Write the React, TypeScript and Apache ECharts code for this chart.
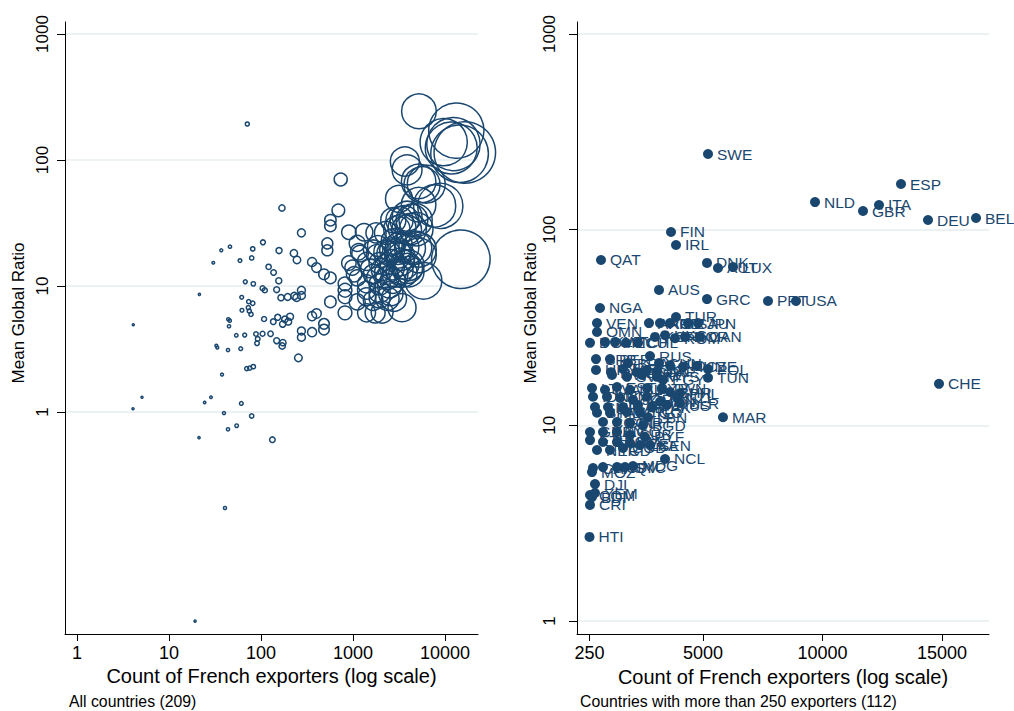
import { useEffect, useRef } from 'react';
import * as echarts from 'echarts';

const NAVY = '#1a476f';
const GRIDC = '#e6eef1';
const FONT = '"Liberation Sans", Arial, Helvetica, sans-serif';

// Countries with more than 250 French exporters (right panel, also drawn in left panel)
const rightCodes = ['SWE','ESP','NLD','ITA','GBR','DEU','BEL','FIN','IRL','QAT','DNK','AUT','LUX','AUS','GRC','PRT','USA','NGA','TUR','JPN','VEN','ARG','ARE','ISR','SAU','OMN','DOM','KWT','LBY','ECU','CHL','KOR','HKG','ROM','NOR','CAN','SRB','PER','BRA','RUS','CHN','IND','CZE','HUN','POL','TUN','CHE','MAR','URY','PAN','MEX','SGP','THA','ZAF','SVK','SVN','HRV','MYS','EGY','LTU','LVA','EST','ISL','CYP','TWN','BHR','PHL','IDN','VNM','KAZ','JOR','SYR','IRN','NZL','CMR','CIV','GAB','COL','PAK','MUS','BLR','BFA','MLI','BEN','TGO','LBN','COG','GIN','MRT','BGD','GHA','KEN','AGO','CUB','PYF','ETH','GEO','ARM','AZE','LKA','SEN','NER','TCD','COD','NCL','CAF','MDG','SYC','GNQ','CPV','MOZ','DJI','COM','BDI','YEM','CRI','HTI'];
const rightCounts = [5210,13281,9685,12361,11692,14410,16418,3663,3872,735,
  5168,5628,6255,3161,5168,7719,8890,693,3872,4792,
  568,2742,3202,3621,4373,568,275,902,1321,1781,
  2282,2993,3412,3830,4248,4875,526,1111,1864,2784,
  3161,3621,4750,4164,5210,5210,14870,5837,526,1153,
  1655,2241,2659,3077,1195,1822,2450,3077,3328,359,
  902,1404,1948,2659,3286,3621,4039,401,986,1530,
  2073,2659,3202,3913,484,1028,1655,2282,2868,3495,
  4039,568,1111,1822,2366,2701,819,1404,1948,2492,
  275,819,1404,1948,2575,275,819,1404,1948,2366,
  2784,568,1111,1655,3412,401,2073,1739,819,1404,
  359,484,275,359,484,275,255];
const rightRatios = [243.6,171.1,138.4,133.7,124.5,112.0,114.7,97.3,83.5,70.0,
  67.6,63.7,64.4,49.2,44.2,43.2,43.2,39.8,35.8,33.3,
  33.3,33.3,33.3,33.3,33.3,30.0,26.4,26.7,26.7,26.4,
  26.4,28.3,28.9,27.9,28.3,28.3,21.8,21.8,20.8,22.6,
  20.8,20.3,20.1,19.9,19.4,17.5,16.3,11.0,19.2,18.7,
  19.4,18.7,19.2,18.9,18.1,17.7,18.1,17.7,17.1,15.5,
  15.2,15.7,15.2,15.5,15.5,14.8,14.6,14.0,14.0,13.8,
  13.5,14.0,13.2,13.8,12.4,12.4,12.4,12.7,12.4,12.7,
  13.0,11.6,11.6,11.7,11.6,11.0,10.4,10.4,10.3,10.0,
  9.25,9.25,9.25,8.93,8.72,8.41,8.22,8.22,8.12,7.93,
  7.93,7.48,7.48,7.66,6.73,6.05,6.20,6.12,6.12,6.12,
  5.77,5.01,4.40,4.30,4.51,3.92,2.69];

// Countries with 250 exporters or fewer (left panel only)
const smallCounts = [71.0,169,105,81.3,79.2,37.0,46.0,30.3,59.1,157,228,246,121,137,156,67.5,82.5,104,110,148,21.4,61.7,73.5,81.3,62.1,72.8,
  74.6,77.9,165,195,230,244,4.09,44.1,45.7,44.9,108,136,152,172,182,198,207,53.9,66.5,88.2,104,127,92.1,90.5,148,173,
  170,32.7,33.5,43.8,60.2,69.9,75.4,82.5,37.7,5.09,28.6,24.4,4.06,61.1,39.6,79.2,43.8,54.4,21.2,133,40.6,19.2];
const smallRatios = [193,41.6,22.2,19.7,16.7,19.2,20.5,15.3,15.9,19.1,18.2,16.1,14.2,12.8,11.0,10.8,10.4,9.59,9.25,9.35,8.59,8.13,7.51,7.29,6.41,6.73,
  6.33,5.96,8.08,8.18,8.33,8.08,4.93,5.44,5.31,4.79,5.47,5.21,5.64,4.99,5.44,5.21,5.71,4.06,4.08,4.16,4.18,4.18,3.80,3.51,3.68,3.55,
  3.34,3.36,3.24,3.10,3.18,2.21,2.23,2.29,1.98,1.31,1.31,1.19,1.06,1.17,0.98,0.93,0.729,0.778,0.625,0.603,0.173,0.0219];

const leftXTicks = [1, 10, 100, 1000, 10000];
const rightXTicks = [250, 5000, 10000, 15000];
const yTicks = [1, 10, 100, 1000];

const xTitle = 'Count of French exporters (log scale)';
const yTitle = 'Mean Global Ratio';
const leftNote = 'All countries (209)';
const rightNote = 'Countries with more than 250 exporters (112)';

export default function App() {
  const ref = useRef<HTMLDivElement>(null);
  useEffect(() => {
    const chart = echarts.init(ref.current!, null, { renderer: 'svg' });
    const bubbleData = [
      ...smallCounts.map((c, i) => [c, smallRatios[i]]),
      ...rightCounts.map((c, i) => [c, rightRatios[i]]),
    ];
    const labelled = rightCounts.map((c, i) => ({ name: rightCodes[i], value: [c, rightRatios[i]] }));
    const fmt = (v: number) => String(Math.round(v));
    const mkGrid = (left: number, top: number, width: number, height: number) => ({
      left, top, width, height, containLabel: false, outerBoundsMode: 'none',
    });
    const lineAxis = { show: true, onZero: false, lineStyle: { color: '#000', width: 1 } };
    const hidden = (gridIndex: number) => ({ gridIndex, type: 'value', show: false, min: 0, max: 1 });
    const tickAxisY = (gridIndex: number, margin: number) => ({
      gridIndex, type: 'log', logBase: 10, min: yTicks[0], max: yTicks[yTicks.length - 1],
      axisLine: { show: false },
      axisTick: { show: true, length: 8, lineStyle: { color: '#000', width: 1 } },
      axisLabel: { show: true, rotate: 90, fontSize: 17, color: '#000', margin, formatter: fmt, fontFamily: FONT },
      splitLine: { show: true, lineStyle: { color: GRIDC, width: 1.5 } },
    });
    const titleStyle = { fontSize: 20, color: '#000', fontFamily: FONT };
    const option: any = {
      animation: false,
      backgroundColor: '#ffffff',
      textStyle: { fontFamily: FONT },
      grid: [
        mkGrid(65, 22, 413, 612),
        mkGrid(65, 34, 413, 378),
        mkGrid(77, 22, 368, 612),
        mkGrid(577, 22, 412, 612),
        mkGrid(577, 34, 412, 587),
      ],
      xAxis: [
        { gridIndex: 0, type: 'log', min: Math.pow(10, -0.1304), max: Math.pow(10, 4.3587),
          axisLine: lineAxis, axisTick: { show: false }, axisLabel: { show: false }, splitLine: { show: false },
          name: xTitle, nameLocation: 'middle', nameGap: 32, nameTextStyle: titleStyle },
        hidden(1),
        { gridIndex: 2, type: 'log', min: leftXTicks[0], max: leftXTicks[leftXTicks.length - 1],
          axisLine: { show: false },
          axisTick: { show: true, length: 7, lineStyle: { color: '#000', width: 1 } },
          axisLabel: { show: true, fontSize: 18, color: '#000', margin: 10, formatter: fmt, fontFamily: FONT },
          splitLine: { show: false } },
        { gridIndex: 3, type: 'value', min: -268.6, max: 16961,
          axisLine: lineAxis,
          axisTick: { show: true, length: 7, customValues: rightXTicks, lineStyle: { color: '#000', width: 1 } },
          axisLabel: { show: true, fontSize: 18, color: '#000', margin: 10, formatter: fmt, customValues: rightXTicks, fontFamily: FONT },
          splitLine: { show: false },
          name: xTitle, nameLocation: 'middle', nameGap: 32, nameTextStyle: titleStyle },
        hidden(4),
      ],
      yAxis: [
        { gridIndex: 0, type: 'log', min: Math.pow(10, -1.7619), max: Math.pow(10, 3.0952),
          axisLine: lineAxis, axisTick: { show: false }, axisLabel: { show: false }, splitLine: { show: false } },
        tickAxisY(1, 14),
        hidden(2),
        { gridIndex: 3, type: 'log', min: Math.pow(10, -0.0664), max: Math.pow(10, 3.0613),
          axisLine: lineAxis, axisTick: { show: false }, axisLabel: { show: false }, splitLine: { show: false } },
        tickAxisY(4, 19),
      ],
      graphic: [
        { type: 'text', x: 18, y: 313, rotation: Math.PI / 2,
          style: { text: yTitle, fontSize: 17, fill: '#000', align: 'center', verticalAlign: 'middle', fontFamily: FONT } },
        { type: 'text', x: 530, y: 313, rotation: Math.PI / 2,
          style: { text: yTitle, fontSize: 17, fill: '#000', align: 'center', verticalAlign: 'middle', fontFamily: FONT } },
        { type: 'text', x: 69, y: 701,
          style: { text: leftNote, fontSize: 15.8, fill: '#000', align: 'left', verticalAlign: 'middle', fontFamily: FONT } },
        { type: 'text', x: 580, y: 701,
          style: { text: rightNote, fontSize: 15.8, fill: '#000', align: 'left', verticalAlign: 'middle', fontFamily: FONT } },
      ],
      series: [
        { type: 'scatter', xAxisIndex: 0, yAxisIndex: 0, data: bubbleData, clip: false,
          symbol: 'circle',
          symbolSize: (v: number[]) => Math.max(2, 0.48 * Math.sqrt(v[0])),
          itemStyle: { color: 'rgba(0,0,0,0)', borderColor: NAVY, borderWidth: 1.5, opacity: 1 },
          emphasis: { disabled: true }, silent: true },
        { type: 'scatter', xAxisIndex: 3, yAxisIndex: 3, data: labelled, clip: false,
          symbol: 'circle', symbolSize: 10,
          itemStyle: { color: NAVY, opacity: 1 },
          label: { show: true, position: 'right', distance: 4, formatter: '{b}', fontSize: 15.5, color: NAVY, fontFamily: FONT },
          emphasis: { disabled: true }, silent: true },
      ],
    };
    chart.setOption(option);
    return () => chart.dispose();
  }, []);
  return <div ref={ref} style={{ position: 'absolute', left: 0, top: 0, width: 1014, height: 711, background: '#fff' }} />;
}
